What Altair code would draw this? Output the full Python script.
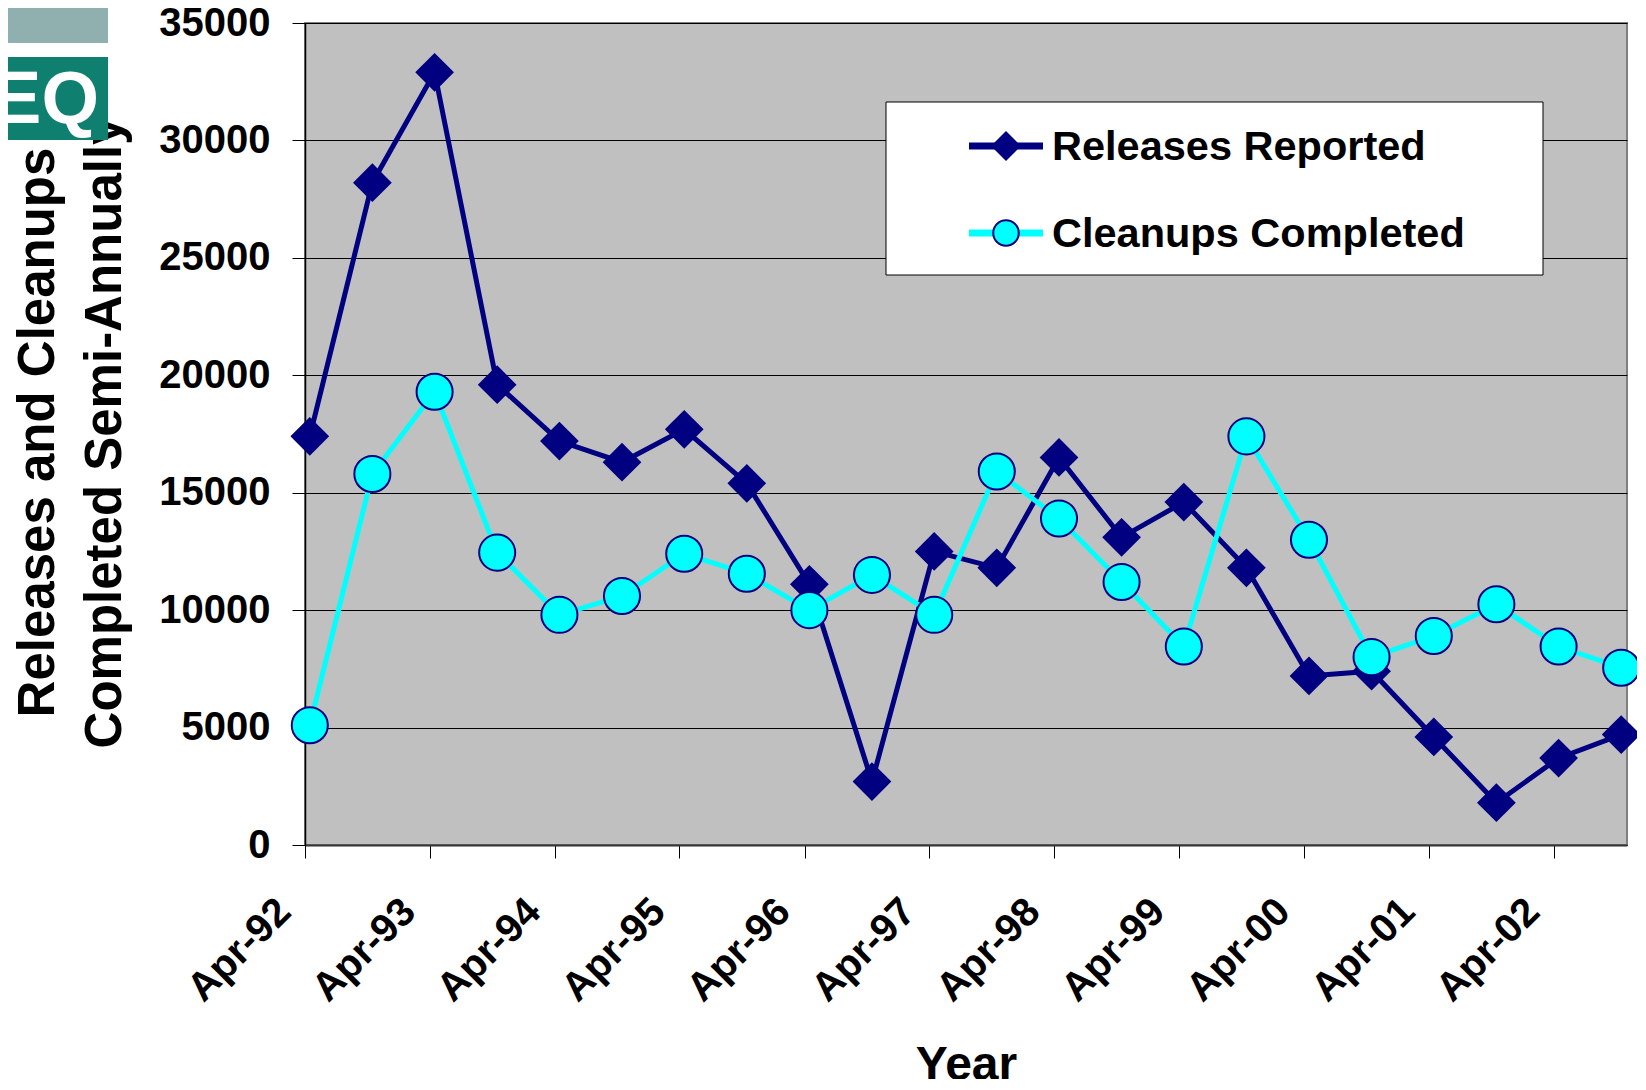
import altair as alt
import pandas as pd

# ---------------- data ----------------
dates = [
    "1992-04-15", "1992-10-15", "1993-04-15", "1993-10-15", "1994-04-15", "1994-10-15",
    "1995-04-15", "1995-10-15", "1996-04-15", "1996-10-15", "1997-04-15", "1997-10-15",
    "1998-04-15", "1998-10-15", "1999-04-15", "1999-10-15", "2000-04-15", "2000-10-15",
    "2001-04-15", "2001-10-15", "2002-04-15", "2002-10-15",
]
releases = [17400, 28200, 32900, 19600, 17200, 16300, 17700, 15400, 11100, 2700, 12500,
            11800, 16500, 13100, 14600, 11800, 7200, 7400, 4600, 1800, 3700, 4700]
cleanups = [5100, 15800, 19300, 12450, 9800, 10600, 12400, 11550, 10000, 11500, 9800,
            15900, 13900, 11200, 8450, 17400, 13000, 8000, 8900, 10250, 8450, 7550]
series_names = ["Releases Reported", "Cleanups Completed"]
tick_dates = ["1992-04-01", "1993-04-01", "1994-04-01", "1995-04-01", "1996-04-01",
              "1997-04-01", "1998-04-01", "1999-04-01", "2000-04-01", "2001-04-01",
              "2002-04-01"]
x_domain = ["1992-04-01", "2002-11-01"]
y_ticks = [0, 5000, 10000, 15000, 20000, 25000, 30000, 35000]
y_title = ["Releases and Cleanups", "Completed Semi-Annually"]
x_title = "Year"


def ms(d):
    return int(pd.Timestamp(d, tz="UTC").timestamp() * 1000)


NAVY = "#000080"
CYAN = "#00FFFF"
FONT = "Liberation Sans"
W, H = 1322, 822

rel_df = pd.DataFrame({"date": dates, "value": releases, "series": series_names[0]})
cln_df = pd.DataFrame({"date": dates, "value": cleanups, "series": series_names[1]})

x_enc = alt.X(
    "date:T",
    scale=alt.Scale(type="utc", domain=[ms(x_domain[0]), ms(x_domain[1])], nice=False),
    axis=alt.Axis(
        values=[ms(d) for d in tick_dates],
        labelExpr="utcFormat(datum.value, '%b-%y')",
        labelAngle=315, labelAlign="right", labelBaseline="middle",
        labelPadding=47, labelOffset=-21,
        labelFont=FONT, labelFontSize=40, labelFontWeight="bold", labelColor="black",
        labelOverlap=False, labelFlush=False,
        tickSize=13, tickColor="black", tickWidth=1,
        domainColor="#333333", domainWidth=2, grid=False,
        title=x_title, titleFont=FONT, titleFontSize=48, titleFontWeight="bold",
        titleColor="black", titleX=W / 2, titleY=234, titleAlign="center",
        titleBaseline="alphabetic",
    ),
)
y_enc = alt.Y(
    "value:Q",
    scale=alt.Scale(domain=[0, 35000], nice=False),
    axis=alt.Axis(
        values=y_ticks, format="d",
        labelFont=FONT, labelFontSize=40, labelFontWeight="bold", labelColor="black",
        labelPadding=22, tickSize=13, tickColor="black", tickWidth=1,
        domainColor="black", domainWidth=1.5,
        grid=True, gridColor="black", gridWidth=1,
        title=y_title, titleFont=FONT, titleFontSize=51, titleFontWeight="bold",
        titleColor="black", titleAngle=270, titleX=-252, titleY=409,
        titleAlign="center", titleBaseline="alphabetic", titleLineHeight=67,
    ),
)
x_plain = alt.X("date:T")
y_plain = alt.Y("value:Q")

rel_line = alt.Chart(rel_df).mark_line(color=NAVY, strokeWidth=5).encode(x=x_enc, y=y_enc)
rel_pts = alt.Chart(rel_df).mark_point(
    shape="diamond", filled=True, color=NAVY, size=1500, opacity=1
).encode(x=x_plain, y=y_plain)
cln_line = alt.Chart(cln_df).mark_line(color=CYAN, strokeWidth=5).encode(x=x_plain, y=y_plain)
cln_pts = alt.Chart(cln_df).mark_point(
    shape="circle", filled=True, fill=CYAN, stroke=NAVY, strokeWidth=2, size=1300, opacity=1
).encode(x=x_plain, y=y_plain)

# ---------------- legend (drawn by hand, Excel-style) ----------------
one = alt.Data(values=[{"k": 0}])
leg_box = alt.Chart(one).mark_rect(fill="white", stroke="black", strokeWidth=1).encode(
    x=alt.value(581), x2=alt.value(1238), y=alt.value(79), y2=alt.value(252)
)
leg_layers = [leg_box]
rows = [(series_names[0], 123, NAVY, "diamond", NAVY, 900),
        (series_names[1], 210, CYAN, "circle", CYAN, 650)]
for name, ry, lcol, shp, fcol, sz in rows:
    d = alt.Data(values=[{"name": name}])
    leg_layers.append(
        alt.Chart(d).mark_rule(color=lcol, strokeWidth=7).encode(
            x=alt.value(664), x2=alt.value(738), y=alt.value(ry)
        )
    )
    if shp == "diamond":
        pm = alt.Chart(d).mark_point(shape=shp, filled=True, color=fcol, size=sz, opacity=1)
    else:
        pm = alt.Chart(d).mark_point(shape=shp, filled=True, fill=fcol, stroke=NAVY,
                                     strokeWidth=2, size=sz, opacity=1)
    leg_layers.append(pm.encode(x=alt.value(701), y=alt.value(ry)))
    leg_layers.append(
        alt.Chart(d).mark_text(align="left", baseline="middle", font=FONT, fontSize=41.5,
                               fontWeight="bold", color="black").encode(
            x=alt.value(747), y=alt.value(ry + 2), text="name:N"
        )
    )

# ---------------- logo fragment (top-left corner) ----------------
logo_top = alt.Chart(one).mark_rect(fill="#8FB0AF").encode(
    x=alt.value(-305), x2=alt.value(-197), y=alt.value(-23), y2=alt.value(20)
)
logo_bot = alt.Chart(one).mark_rect(fill="#0F7F6F").encode(
    x=alt.value(-305), x2=alt.value(-197), y=alt.value(34), y2=alt.value(117)
)
logo_txt = alt.Chart(alt.Data(values=[{"t": "EQ"}])).mark_text(
    align="right", baseline="alphabetic", font=FONT, fontSize=74, fontWeight="bold",
    color="white"
).encode(x=alt.value(-206), y=alt.value(100), text="t:N")

chart = alt.layer(
    logo_top, logo_bot, logo_txt,
    rel_line, rel_pts, cln_line, cln_pts,
    *leg_layers,
).properties(
    width=W, height=H,
    autosize=alt.AutoSizeParams(type="none"),
    padding={"left": 297, "top": 15, "right": 10, "bottom": 234},
    background="white",
).configure_view(
    fill="#C0C0C0", stroke="#808080", strokeWidth=2
)

chart.save("out.html", embed_options={"renderer": "svg", "actions": False})
